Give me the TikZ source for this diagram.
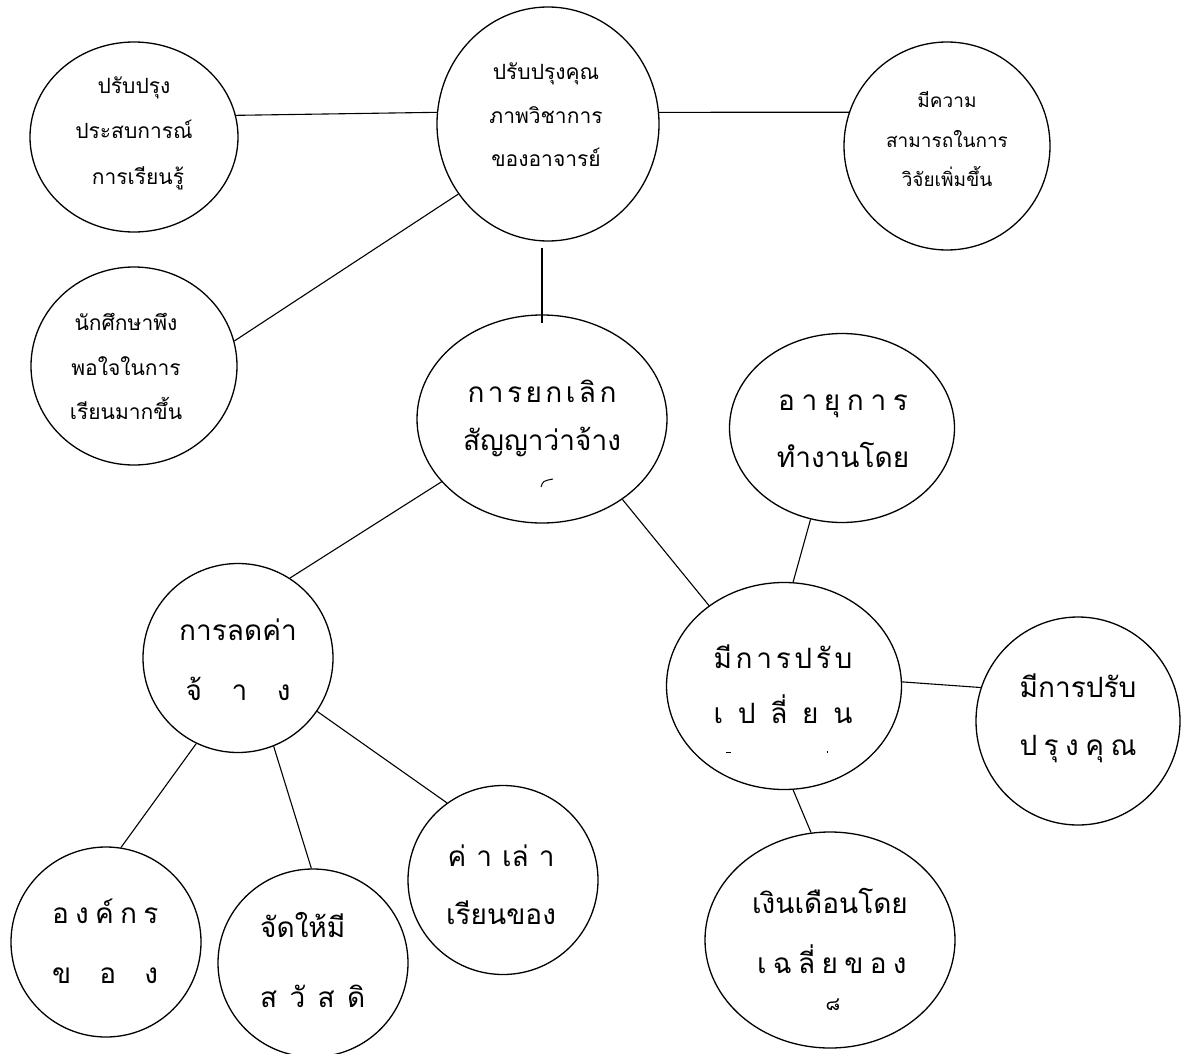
\documentclass[tikz,border=0pt]{standalone}
\usepackage{fontspec}
\newfontfamily\thai[Script=Thai]{Loma}
\usetikzlibrary{shapes.geometric}
\newcommand\spr[2]{\makebox[#1][s]{#2}}
\newcommand\fillbox[2]{\makebox[#1]{#2}}
\begin{document}
\begin{tikzpicture}[x=1pt,y=-1pt,
  bub/.style={ellipse, draw, line width=1.3pt, inner sep=0pt},
  con/.style={draw, line width=1.1pt},
  sm/.style={font=\thai\fontsize{21}{25}\selectfont, anchor=base, inner sep=0pt},
  xs/.style={font=\thai\fontsize{19}{23}\selectfont, anchor=base, inner sep=0pt},
  bg/.style={font=\thai\fontsize{28}{32}\selectfont, anchor=base, inner sep=0pt}]
\useasboundingbox (0,0) rectangle (1186,1054);

% bubbles
\node[bub, minimum width=208pt, minimum height=190pt] (c1) at (134,137) {};
\node[bub, minimum width=222pt, minimum height=234pt] (c2) at (548,124) {};
\node[bub, minimum width=206pt, minimum height=208pt] (c3) at (947,146) {};
\node[bub, minimum width=206pt, minimum height=198pt] (c4) at (134,366) {};
\node[bub, minimum width=250pt, minimum height=208pt] (c5) at (542,419) {};
\node[bub, minimum width=225pt, minimum height=189pt] (c6) at (842,428) {};
\node[bub, minimum width=190pt, minimum height=189pt] (c7) at (238,658) {};
\node[bub, minimum width=190pt, minimum height=190pt] (c8) at (106,942) {};
\node[bub, minimum width=190pt, minimum height=188pt] (c9) at (313,963) {};
\node[bub, minimum width=190pt, minimum height=189pt] (c10) at (503,880) {};
\node[bub, minimum width=235pt, minimum height=207pt] (c11) at (784,686) {};
\node[bub, minimum width=204pt, minimum height=208pt] (c12) at (1078,721) {};
\node[bub, minimum width=250pt, minimum height=216pt] (c13) at (830,940) {};

% texts
\node[sm] (t1a) at (134,94) {ปรับปรุง};
\node[sm] (t1b) at (134,139) {ประสบการณ์};
\node[sm] (t1c) at (138,184) {การเรียนรู้};
\node[sm] (t2a) at (546,80) {ปรับปรุงคุณ};
\node[sm] (t2b) at (546,124) {ภาพวิชาการ};
\node[sm] (t2c) at (546,167) {ของอาจารย์};
\node[xs] (t3a) at (947,108) {มีความ};
\node[xs] (t3b) at (947,148) {สามารถในการ};
\node[xs] (t3c) at (947,186) {วิจัยเพิ่มขึ้น};
\node[sm] (t4a) at (126,330) {นักศึกษาพึง};
\node[sm] (t4b) at (126,375) {พอใจในการ};
\node[sm] (t4c) at (126,419) {เรียนมากขึ้น};
\node[bg] (t5a) at (542,402) {\fillbox{149pt}{ก\hfill า\hfill ร\hfill ย\hfill ก\hfill เ\hfill ลิ\hfill ก}};
\node[bg] (t5b) at (542,450) {สัญญาว่าจ้าง};
\node[bg] (t6a) at (843,410) {\spr{130pt}{อ า ยุ ก า ร}};
\node[bg] (t6b) at (843,467) {ทำงานโดย};
\node[bg] (t7a) at (238,640) {การลดค่า};
\node[bg] (t7b) at (238,700) {\spr{105pt}{จ้ า ง}};
\node[bg] (t8a) at (105,923) {\spr{106pt}{อ ง ค์ ก ร}};
\node[bg] (t8b) at (105,983) {\spr{106pt}{ข อ ง}};
\node[bg, anchor=base west] (t9a) at (260,937) {จัดให้มี};
\node[bg, anchor=base west] (t9b) at (260,1007) {\spr{105pt}{ส วั ส ดิ}};
\node[bg] (t10a) at (501,866) {\spr{107pt}{ค่ า เล่ า}};
\node[bg] (t10b) at (501,924) {เรียนของ};
\node[bg] (t11a) at (783,668) {\fillbox{139pt}{มี\hfill ก\hfill า\hfill ร\hfill ป\hfill รั\hfill บ}};
\node[bg] (t11b) at (783,723) {\spr{139pt}{เ ป ลี่ ย น}};
\node[bg] (t12a) at (1078,697) {มีการปรับ};
\node[bg] (t12b) at (1078,755) {\spr{117pt}{ป รุ ง คุ ณ}};
\node[bg] (t13a) at (830,913) {เงินเดือนโดย};
\node[bg] (t13b) at (830,973) {\spr{146pt}{เ ฉ ลี่ ย ข อ ง}};
\node[xs] (t13c) at (833,1010) {๘};

% clipped marks
\draw[line width=1pt] (541,487) .. controls (543,481) .. (553,479);
\draw[line width=1pt] (726,752) -- (731,752);
\draw[line width=1.2pt] (826.5,752) -- (828,752);

% connectors
\draw[con] (c1.12) -- (c2.174);
\draw[con] (c2.6) -- (c3.161);
\draw[con] (c4.14) -- (c2.218);
\draw[con, shorten <=6pt, shorten >=-9pt] (c2.south -| c5.north) -- (c5.north);
\draw[con] (c5.212) -- (c7.57);
\draw[con] (c5.315) -- (c11.133);
\draw[con] (c6.251) -- (c11.85);
\draw[con] (c11.2) -- (c12.161);
\draw[con] (c11.275) -- (c13.100);
\draw[con] (c7.244) -- (c8.81);
\draw[con] (c7.292) -- (c9.91);
\draw[con] (c7.326) -- (c10.126);
\end{tikzpicture}
\end{document}
